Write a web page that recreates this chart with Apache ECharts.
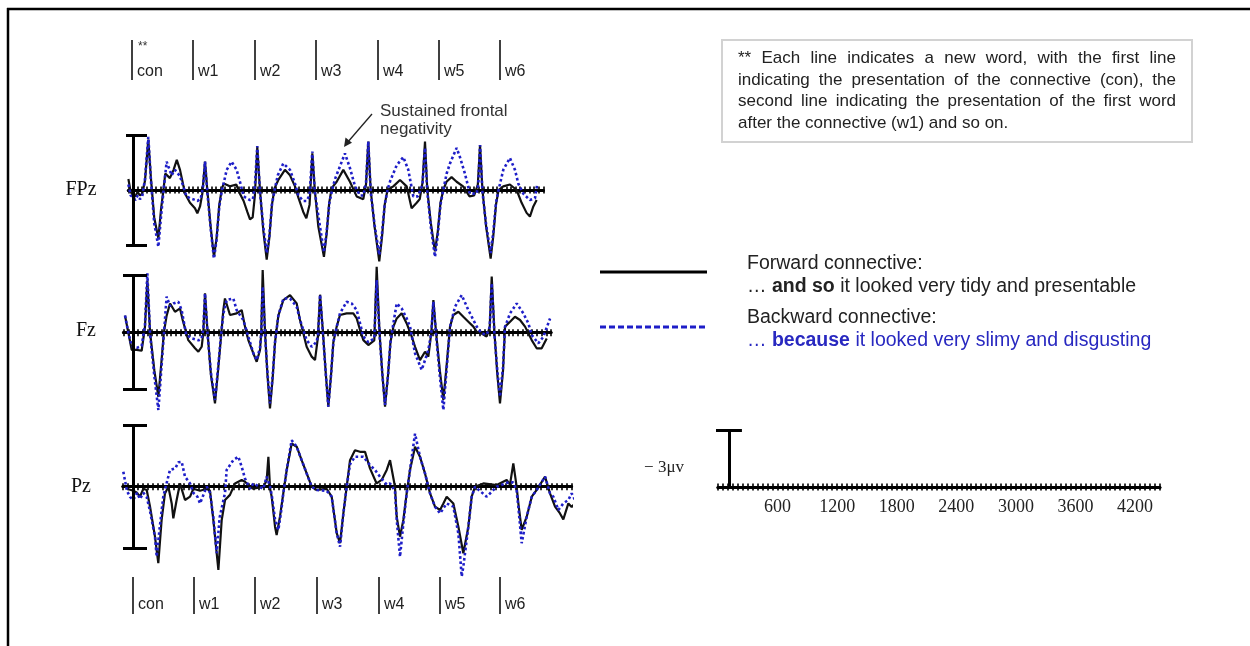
<!DOCTYPE html>
<html><head><meta charset="utf-8">
<script src="https://cdn.jsdelivr.net/npm/echarts@6/dist/echarts.min.js"></script>
<style>html,body{margin:0;padding:0;background:#fff}#c{width:1250px;height:646px}</style>
</head><body><div id="c"></div>
<script>
// ---------- DATA (time in ms from connective onset, amplitude in microvolts; negative plotted up) ----------
const wordLabels = ['con','w1','w2','w3','w4','w5','w6'];
const scaleTickLabels = [600,1200,1800,2400,3000,3600,4200];
const scaleBarUv = 3;

const fpzForward = [[-50,-0.6],[-25,0.1],[0,0.3],[25,0.35],[50,0.1],[75,0.3],[100,0.2],[130,-0.5],[166,-2.75],[195,-0.6],[230,1.5],[275,2.65],[305,1.0],[330,0.0],[350,-0.9],[400,-0.65],[440,-1.1],[475,-1.65],[510,-1.1],[565,0.2],[618,0.7],[672,1.0],[698,1.27],[727,0.9],[752,0.2],[781,-1.55],[806,0.0],[842,2.0],[878,3.65],[907,2.6],[936,0.8],[965,-0.1],[985,-0.35],[1050,-0.2],[1120,-0.3],[1160,0.2],[1200,0.6],[1240,1.2],[1269,1.6],[1298,1.5],[1322,0.3],[1348,-2.35],[1377,0.0],[1413,2.2],[1450,3.8],[1479,2.6],[1507,0.8],[1536,-0.1],[1576,-0.55],[1648,-1.1],[1703,-0.8],[1757,-0.2],[1793,0.4],[1847,1.2],[1880,1.55],[1915,0.8],[1945,-2.0],[1972,0.0],[2010,2.0],[2071,3.65],[2100,2.4],[2128,0.7],[2155,-0.1],[2209,-0.45],[2281,-1.1],[2353,-0.45],[2426,0.35],[2498,0.5],[2527,-0.3],[2552,-2.65],[2578,0.0],[2620,2.0],[2671,3.9],[2700,2.6],[2730,0.8],[2760,0.0],[2823,-0.2],[2896,-0.55],[2968,-0.2],[3022,1.0],[3077,0.7],[3110,0.5],[3140,-0.4],[3167,-2.65],[3192,0.0],[3230,1.8],[3275,3.35],[3305,2.3],[3335,0.7],[3365,0.0],[3400,-0.45],[3455,-0.7],[3510,-0.45],[3580,-0.2],[3650,0.35],[3700,0.3],[3740,-0.3],[3764,-2.45],[3790,0.0],[3830,2.0],[3879,3.75],[3908,2.5],[3937,0.8],[3965,0.0],[4016,-0.2],[4088,-0.3],[4161,0.0],[4215,0.7],[4269,1.25],[4305,1.45],[4342,0.9],[4378,0.55]];
const fpzBackward = [[-50,-0.3],[-25,0.3],[0,0.4],[25,0.55],[50,0.3],[75,0.5],[100,0.35],[130,-0.6],[166,-2.9],[195,-0.5],[230,1.8],[275,3.1],[305,1.4],[330,0.1],[365,-1.55],[383,-1.45],[419,-0.8],[455,-1.1],[510,-0.75],[580,0.35],[618,0.45],[650,0.5],[700,0.6],[735,0.45],[760,-0.2],[781,-1.55],[806,0.1],[842,2.1],[878,3.75],[907,2.7],[936,0.9],[965,0.0],[985,-0.4],[1016,-1.1],[1070,-1.55],[1124,-1.1],[1168,-0.3],[1200,0.35],[1269,0.55],[1300,0.5],[1322,-0.2],[1348,-2.4],[1377,0.1],[1413,2.0],[1450,3.45],[1479,2.5],[1507,0.8],[1536,0.0],[1570,-0.8],[1630,-1.45],[1703,-1.1],[1757,-0.35],[1793,0.3],[1847,0.6],[1880,0.6],[1915,0.3],[1945,-2.1],[1972,0.1],[2025,1.9],[2071,3.4],[2100,2.3],[2130,0.7],[2160,0.0],[2191,-0.6],[2245,-1.3],[2299,-2.0],[2353,-1.2],[2408,-0.2],[2462,0.3],[2498,0.3],[2527,-0.4],[2552,-2.65],[2578,0.1],[2620,1.9],[2671,3.55],[2700,2.4],[2730,0.8],[2760,0.0],[2790,-0.5],[2860,-1.35],[2932,-1.8],[2986,-1.1],[3040,0.35],[3090,0.35],[3140,-0.3],[3167,-2.3],[3192,0.1],[3230,2.0],[3275,3.65],[3305,2.5],[3335,0.8],[3365,0.0],[3402,-0.9],[3438,-1.45],[3510,-2.3],[3546,-1.8],[3600,-0.9],[3654,0.2],[3727,0.2],[3745,-0.3],[3764,-2.45],[3790,0.1],[3830,1.9],[3879,3.45],[3908,2.3],[3937,0.7],[3965,0.0],[4016,-1.1],[4088,-1.75],[4143,-1.1],[4179,-0.35],[4233,0.2],[4305,0.55],[4360,0.45],[4385,-0.35]];

const fzForward = [[-84,-0.9],[-49,0.0],[-14,0.9],[39,0.9],[91,0.95],[126,-0.3],[151,-2.75],[180,0.0],[225,2.0],[267,3.37],[300,1.5],[325,0.0],[354,-0.9],[372,-0.84],[390,-1.54],[442,-1.1],[495,-1.28],[523,-0.67],[582,0.39],[653,0.82],[688,1.0],[723,0.74],[740,0.0],[758,-2.07],[785,0.0],[820,2.2],[863,3.72],[895,2.0],[925,0.3],[951,-1.2],[968,-1.8],[1021,-0.93],[1091,-1.02],[1144,-1.19],[1179,-0.32],[1214,0.39],[1267,1.09],[1302,1.53],[1337,0.91],[1350,0.0],[1365,-3.3],[1390,0.0],[1415,2.2],[1442,3.98],[1470,2.4],[1495,0.5],[1530,-0.9],[1583,-1.72],[1653,-1.98],[1723,-1.54],[1758,-0.67],[1828,0.74],[1881,1.26],[1916,1.44],[1945,0.3],[1969,-2.0],[2000,0.0],[2030,2.2],[2056,3.89],[2085,2.2],[2109,0.5],[2144,-0.32],[2179,-0.93],[2249,-1.02],[2319,-1.02],[2355,-0.75],[2390,-0.14],[2425,0.39],[2477,0.65],[2540,0.4],[2565,-3.47],[2595,0.0],[2625,2.2],[2653,3.89],[2685,2.2],[2710,0.5],[2741,-0.32],[2776,-0.75],[2828,-1.02],[2881,-0.49],[2934,0.21],[2969,0.74],[3021,1.44],[3074,1.0],[3109,1.26],[3140,0.0],[3162,-1.72],[3190,0.0],[3230,2.0],[3267,3.54],[3300,1.8],[3337,-0.32],[3372,-0.93],[3425,-1.1],[3477,-0.84],[3530,-0.58],[3583,-0.32],[3618,-0.05],[3670,0.04],[3723,0.2],[3755,-0.3],[3776,-2.95],[3805,0.0],[3835,2.2],[3863,3.72],[3895,2.0],[3916,-0.32],[3969,-0.58],[4021,-0.84],[4074,-0.67],[4127,-0.32],[4197,0.39],[4249,0.82],[4302,0.82],[4355,0.3]];
const fzBackward = [[-84,-0.9],[-49,0.0],[-14,0.7],[39,0.8],[91,0.7],[126,-0.4],[151,-3.12],[180,0.1],[225,2.3],[267,4.07],[300,1.8],[325,0.1],[354,-1.9],[390,-1.4],[425,-1.54],[477,-1.63],[512,-1.19],[560,0.1],[620,0.3],[690,0.4],[723,0.3],[740,-0.2],[758,-2.07],[785,0.1],[820,2.1],[863,3.54],[895,1.9],[925,0.2],[951,-1.0],[986,-1.72],[1056,-1.8],[1091,-1.19],[1161,-0.67],[1214,0.21],[1267,1.09],[1302,1.44],[1337,0.8],[1350,0.0],[1365,-2.42],[1390,0.1],[1415,2.1],[1442,3.72],[1470,2.3],[1495,0.5],[1530,-0.9],[1583,-1.8],[1653,-1.8],[1723,-1.37],[1758,-0.67],[1828,0.39],[1881,0.74],[1934,0.47],[1950,0.0],[1969,-2.0],[2000,0.1],[2030,2.2],[2056,3.89],[2085,2.2],[2109,0.5],[2144,-0.3],[2179,-1.02],[2249,-1.63],[2302,-1.54],[2355,-1.19],[2390,-0.49],[2425,0.21],[2477,0.5],[2540,0.3],[2565,-2.77],[2595,0.1],[2625,2.2],[2653,3.8],[2685,2.2],[2710,0.5],[2741,-0.5],[2776,-1.54],[2828,-1.28],[2881,-0.75],[2916,-0.32],[2969,1.09],[3039,1.96],[3074,1.44],[3109,0.9],[3140,0.0],[3162,-1.63],[3190,0.1],[3230,2.3],[3267,4.07],[3300,2.0],[3337,-0.3],[3390,-1.37],[3460,-1.98],[3530,-1.19],[3583,-0.67],[3618,-0.32],[3670,0.04],[3723,0.1],[3755,-0.3],[3776,-2.6],[3805,0.1],[3835,2.0],[3863,3.37],[3895,1.8],[3916,-0.3],[3969,-1.02],[4039,-1.54],[4109,-1.02],[4162,-0.49],[4197,0.12],[4267,0.56],[4320,0.21],[4390,-0.75]];

const pzForward = [[-60,0.1],[3,0.2],[40,0.3],[69,0.49],[103,0.1],[136,0.16],[169,0.98],[218,2.45],[251,3.75],[284,1.63],[317,0.33],[351,0.0],[384,0.82],[400,1.55],[433,0.65],[466,-0.16],[516,0.65],[566,0.49],[599,0.1],[665,0.2],[731,0.1],[764,0.2],[797,1.63],[847,4.08],[880,1.63],[913,0.65],[929,0.65],[962,0.4],[1012,-0.16],[1078,-0.33],[1111,-0.24],[1161,0.0],[1194,0.1],[1293,0.0],[1326,-0.3],[1343,-1.47],[1360,0.1],[1376,0.49],[1409,1.96],[1425,2.37],[1458,1.47],[1491,0.33],[1525,-0.82],[1574,-2.12],[1624,-1.96],[1673,-1.3],[1723,-0.65],[1773,0.0],[1822,0.16],[1921,0.1],[1971,0.49],[2021,2.28],[2054,2.77],[2087,1.31],[2120,0.0],[2153,-1.3],[2202,-1.79],[2252,-1.71],[2302,-1.71],[2351,-0.9],[2417,-0.16],[2467,-0.33],[2517,-0.82],[2550,-1.3],[2599,0.0],[2616,1.47],[2649,2.45],[2682,1.63],[2715,0.33],[2748,-0.82],[2798,-1.96],[2847,-1.47],[2897,-0.65],[2947,0.33],[2996,0.98],[3046,1.14],[3079,0.82],[3112,0.49],[3178,0.82],[3228,1.96],[3277,3.26],[3327,1.96],[3360,0.49],[3393,0.0],[3476,-0.16],[3608,-0.08],[3707,-0.33],[3740,-0.1],[3773,-1.14],[3806,0.0],[3823,0.82],[3856,2.12],[3906,1.47],[3956,0.49],[4005,0.16],[4088,-0.49],[4137,0.33],[4187,0.98],[4236,1.31],[4269,1.6],[4319,0.82],[4352,1.0],[4385,0.8]];
const pzBackward = [[-96,-0.73],[-60,0.2],[-30,0.5],[3,0.65],[40,0.3],[69,0.6],[103,0.3],[136,0.5],[169,1.2],[218,2.45],[235,3.43],[265,2.0],[300,0.5],[340,-0.3],[367,-0.82],[420,-0.9],[450,-1.2],[483,-1.22],[516,-0.49],[566,-0.16],[599,0.3],[640,0.5],[665,0.82],[731,0.0],[764,0.3],[797,1.5],[830,3.26],[860,1.5],[913,0.3],[929,-0.82],[995,-1.3],[1045,-1.47],[1078,-0.98],[1111,-0.4],[1161,0.1],[1194,-0.16],[1293,0.1],[1326,-0.49],[1360,0.0],[1376,0.4],[1409,1.6],[1442,2.12],[1470,1.2],[1491,0.33],[1525,-0.82],[1574,-2.28],[1624,-1.96],[1673,-1.3],[1723,-0.65],[1773,0.0],[1822,0.16],[1921,0.2],[1971,0.49],[2021,2.28],[2054,2.94],[2087,1.31],[2120,0.0],[2153,-1.1],[2202,-1.47],[2285,-1.47],[2351,-1.06],[2401,-0.82],[2450,-0.49],[2517,-0.1],[2550,-0.16],[2599,0.2],[2616,1.6],[2649,3.43],[2682,1.8],[2715,0.33],[2748,-0.82],[2798,-2.6],[2847,-1.47],[2897,-0.65],[2947,0.33],[2996,0.98],[3046,1.31],[3112,0.82],[3178,0.98],[3228,2.3],[3261,4.4],[3277,3.92],[3327,1.96],[3360,0.49],[3393,0.0],[3509,0.49],[3608,0.0],[3740,-0.24],[3773,-0.2],[3806,0.2],[3823,1.0],[3856,2.77],[3906,1.47],[3956,0.49],[4005,0.16],[4088,-0.49],[4137,0.33],[4170,0.49],[4220,1.14],[4269,0.82],[4319,0.65],[4352,0.33],[4385,0.65]];

// ---------- LAYOUT ----------
const SANS = '"Liberation Sans", Arial, sans-serif';
const SERIF = '"Liberation Serif", "Times New Roman", serif';
const BLACK = '#111';
const BLUE = '#1e1ec8';
const onsetX = 133;
const panels = [
  {name:'FPz', fwd:fpzForward, bwd:fpzBackward, base:190,   pxUv:18.3, pxMs:0.0922, tMin:-50,  tMax:4450, labelX:81, labelY:190},
  {name:'Fz',  fwd:fzForward,  bwd:fzBackward,  base:332.7, pxUv:19.0, pxMs:0.095,  tMin:-100, tMax:4400, labelX:86, labelY:331},
  {name:'Pz',  fwd:pzForward,  bwd:pzBackward,  base:486.7, pxUv:20.4, pxMs:0.1008, tMin:-100, tMax:4350, labelX:81, labelY:487}
];
const scalePanel = {left:718, base:487, pxUv:19, pxMs:0.0993, tMax:4450, barT:110};

const grids = [], xAxes = [], yAxes = [], series = [];
const tickAxis = (gi, min, max, pos, label) => ({
  gridIndex: gi, type:'value', min, max, interval:50, position:pos,
  axisLine:{show:true, onZero:true, onZeroAxisIndex:gi, lineStyle:{color:'#000', width:3}},
  axisTick:{show:true, length:3.5, lineStyle:{color:'#000', width:1.6}},
  axisLabel: label || {show:false}, splitLine:{show:false}
});

panels.forEach((p, i) => {
  grids.push({left: onsetX + p.tMin*p.pxMs, width:(p.tMax-p.tMin)*p.pxMs, top: p.base - 5*p.pxUv, height: 10*p.pxUv, containLabel:false, outerBoundsMode:'none'});
  xAxes.push(tickAxis(i, p.tMin, p.tMax, 'bottom'));
  xAxes.push(tickAxis(i, p.tMin, p.tMax, 'top'));
  yAxes.push({gridIndex:i, type:'value', min:-5, max:5, inverse:true, show:false, splitLine:{show:false}});
  series.push({type:'line', name:p.name+' forward', xAxisIndex:2*i, yAxisIndex:i, data:p.fwd, symbol:'none', showSymbol:false,
    lineStyle:{color:BLACK, width:2.2}, z:3, silent:true});
  series.push({type:'line', name:p.name+' backward', xAxisIndex:2*i, yAxisIndex:i, data:p.bwd, symbol:'none', showSymbol:false,
    lineStyle:{color:BLUE, width:2.6, type:'dotted'}, z:4, silent:true});
  series.push({type:'lines', coordinateSystem:'cartesian2d', xAxisIndex:2*i, yAxisIndex:i, silent:true, z:5,
    lineStyle:{color:'#000', width:3, opacity:1},
    data:[{coords:[[0,-scaleBarUv],[0,scaleBarUv]]},
          {coords:[[-10/p.pxMs,-scaleBarUv],[14/p.pxMs,-scaleBarUv]]},
          {coords:[[-10/p.pxMs,scaleBarUv],[14/p.pxMs,scaleBarUv]]}]});
});

// scale panel (grid 3): baseline at the grid's bottom edge so the labels sit right under it
const sp = scalePanel;
grids.push({left:sp.left, width:sp.tMax*sp.pxMs, top:sp.base-5*sp.pxUv, height:5*sp.pxUv, containLabel:false, outerBoundsMode:'none'});
xAxes.push(tickAxis(3, 0, sp.tMax, 'bottom', {show:true, interval:0, margin:11, fontFamily:SERIF, fontSize:18, color:'#222',
  hideOverlap:false, showMinLabel:true, showMaxLabel:true,
  formatter: v => scaleTickLabels.indexOf(v) >= 0 ? String(v) : ''}));
xAxes.push(tickAxis(3, 0, sp.tMax, 'top'));
yAxes.push({gridIndex:3, type:'value', min:-5, max:0, inverse:true, show:false, splitLine:{show:false}});
series.push({type:'lines', coordinateSystem:'cartesian2d', xAxisIndex:6, yAxisIndex:3, silent:true, z:5,
  lineStyle:{color:'#000', width:3, opacity:1},
  data:[{coords:[[sp.barT,0],[sp.barT,-scaleBarUv]]},
        {coords:[[sp.barT-13/sp.pxMs,-scaleBarUv],[sp.barT+13/sp.pxMs,-scaleBarUv]]}]});

// ---------- GRAPHIC ANNOTATIONS ----------
const g = [];
const txt = (x, y, text, font, fill, align) => ({type:'text', x, y, silent:true,
  style:{text, font, fill: fill||'#222', textAlign: align||'left', textVerticalAlign:'middle'}});
const seg = (x1,y1,x2,y2,w,color,dash) => ({type:'line', silent:true, shape:{x1,y1,x2,y2},
  style:{stroke:color||'#000', lineWidth:w, lineDash:dash||null}});

// frame
g.push(seg(7, 9, 1250, 9, 2.5));
g.push(seg(8, 8, 8, 646, 2.5));

// channel labels
panels.forEach(p => g.push(txt(p.labelX, p.labelY, p.name, '20px ' + SERIF, '#111', 'center')));

// word onset markers
const topMarkX = [132,193,255,316,378,439,500];
const botMarkX = [133,194,255,317,379,440,500];
wordLabels.forEach((w, i) => {
  g.push(seg(topMarkX[i], 40, topMarkX[i], 80, 1.5));
  g.push(txt(topMarkX[i]+5, 72, w, '16px ' + SANS, '#222'));
  g.push(seg(botMarkX[i], 577, botMarkX[i], 614, 1.5));
  g.push(txt(botMarkX[i]+5, 605, w, '16px ' + SANS, '#222'));
});
g.push(txt(topMarkX[0]+6, 47, '**', '12px ' + SANS, '#333'));

// annotation
g.push(txt(380, 111, 'Sustained frontal', '17px ' + SANS, '#333'));
g.push(txt(380, 129, 'negativity', '17px ' + SANS, '#333'));
g.push(seg(372, 114, 347, 143, 1.3, '#222'));
g.push({type:'polygon', silent:true, shape:{points:[[344,147],[345.5,137.5],[352,142.8]]}, style:{fill:'#222'}});

// legend
g.push(seg(600, 272, 707, 272, 3, '#000'));
g.push(seg(600, 327, 707, 327, 3, BLUE, [6,3]));
const LF = 19.5;
const richText = (x, y, text, fill) => ({type:'text', x, y, silent:true,
  style:{text, fill, fontSize:LF, fontFamily:SANS, textVerticalAlign:'middle',
    rich:{b:{fontWeight:'bold', fontSize:LF, fontFamily:SANS, fill}}}});
g.push(richText(747, 264, 'Forward connective:', '#222'));
g.push(richText(747, 287, '… {b|and so} it looked very tidy and presentable', '#222'));
g.push(richText(747, 318, 'Backward connective:', '#222'));
g.push(richText(747, 341, '… {b|because} it looked very slimy and disgusting', '#2828c0'));

// note box
g.push({type:'rect', silent:true, shape:{x:722, y:40, width:470, height:102}, style:{fill:'#fff', stroke:'#d2d2d2', lineWidth:2}});
const noteLines = [
  '** Each line indicates a new word, with the first line',
  'indicating the presentation of the connective (con), the',
  'second line indicating the presentation of the first word',
  'after the connective (w1) and so on.'
];
const noteFont = '17px ' + SANS;
const mctx = document.createElement('canvas').getContext('2d');
mctx.font = noteFont;
const noteX0 = 738, noteX1 = 1176, noteY = [58, 80, 101, 123];
noteLines.forEach((line, li) => {
  if (li === noteLines.length - 1) { g.push(txt(noteX0, noteY[li], line, noteFont, '#222')); return; }
  const words = line.split(' ');
  const widths = words.map(w => mctx.measureText(w).width);
  const total = widths.reduce((a,b)=>a+b, 0);
  const gap = (noteX1 - noteX0 - total) / (words.length - 1);
  let x = noteX0;
  words.forEach((w, wi) => { g.push(txt(x, noteY[li], w, noteFont, '#222')); x += widths[wi] + gap; });
});

// scale label
g.push(txt(684, 468, '− 3μv', '17px ' + SERIF, '#222', 'right'));

const chart = echarts.init(document.getElementById('c'), null, {renderer:'canvas'});
chart.setOption({
  animation:false,
  backgroundColor:'#fff',
  grid:grids, xAxis:xAxes, yAxis:yAxes, series,
  graphic:{elements:g}
});
</script>
</body></html>
